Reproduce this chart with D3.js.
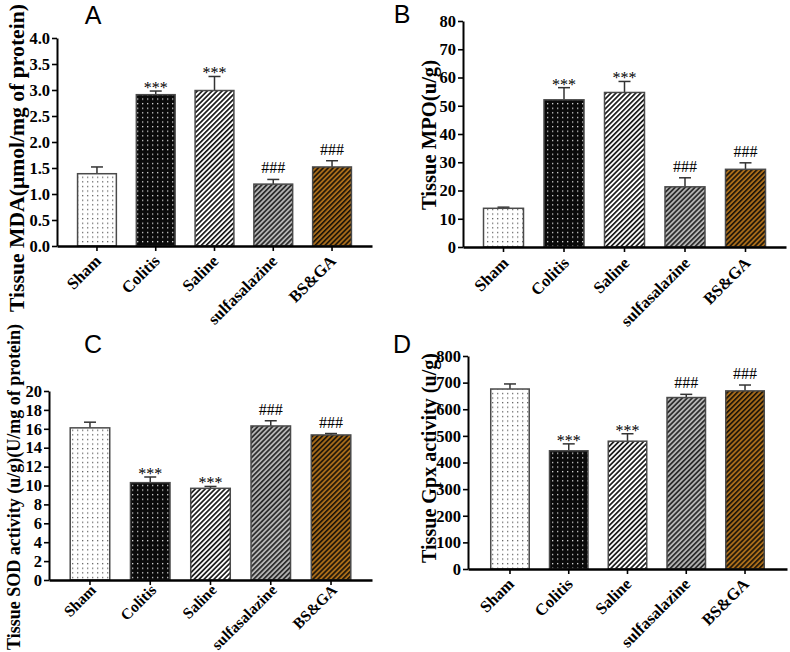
<!DOCTYPE html>
<html>
<head>
<meta charset="utf-8">
<script src="https://cdn.jsdelivr.net/npm/d3@7"></script>
<style>
  html, body { margin: 0; padding: 0; background: #fff; }
  svg { display: block; }
</style>
</head>
<body>
<svg id="chart" width="790" height="652"></svg>
<script>
// ---------------- DATA ----------------
const categories = ["Sham", "Colitis", "Saline", "sulfasalazine", "BS&GA"];

const mdaMeans  = [1.39, 2.91, 2.99, 1.19, 1.52];
const mdaErrors = [0.13, 0.07, 0.27, 0.09, 0.12];
const mdaMarks  = ["", "***", "***", "###", "###"];
const mdaTicks  = [0, 0.5, 1.0, 1.5, 2.0, 2.5, 3.0, 3.5, 4.0];

const mpoMeans  = [13.7, 52.1, 54.7, 21.3, 27.5];
const mpoErrors = [0.4, 4.3, 3.9, 3.2, 2.3];
const mpoMarks  = ["", "***", "***", "###", "###"];
const mpoTicks  = [0, 10, 20, 30, 40, 50, 60, 70, 80];

const sodMeans  = [16.1, 10.3, 9.7, 16.3, 15.35];
const sodErrors = [0.6, 0.6, 0.2, 0.55, 0.15];
const sodMarks  = ["", "***", "***", "###", "###"];
const sodTicks  = [0, 2, 4, 6, 8, 10, 12, 14, 16, 18, 20];

const gpxMeans  = [676, 444, 480, 644, 669];
const gpxErrors = [19, 26, 28, 12, 22];
const gpxMarks  = ["", "***", "***", "###", "###"];
const gpxTicks  = [0, 100, 200, 300, 400, 500, 600, 700, 800];

const panelLetters = ["A", "B", "C", "D"];
const yTitles = [
  "Tissue MDA(\u03bcmol/mg  of protein)",
  "Tissue MPO(u/g)",
  "Tissue SOD activity (u/g)(U/mg of protein)",
  "Tissue Gpx activity (u/g)"
];

// ---------------- LAYOUT ----------------
const svg = d3.select("#chart");
const SERIF = "'Liberation Serif', 'Times New Roman', serif";

const panels = [
  { means: mdaMeans, errs: mdaErrors, marks: mdaMarks, ticks: mdaTicks, fmt: d3.format(".1f"),
    x0: 57, x1: 372, y0: 246, y1: 38, pi: 0.34, po: 0.35, labDx: 5, labDy: 16, labSize: 16.5,
    letterX: 93, letterY: 24, titleX: 24, titleY: 158, titleLen: 308, titleSize: 21 },
  { means: mpoMeans, errs: mpoErrors, marks: mpoMarks, ticks: mpoTicks, fmt: d3.format("d"),
    x0: 463, x1: 786, y0: 247, y1: 21, pi: 0.339, po: 0.339, labDx: 6, labDy: 17, labSize: 16.5,
    letterX: 402, letterY: 23, titleX: 436, titleY: 135, titleLen: 150, titleSize: 20.5 },
  { means: sodMeans, errs: sodErrors, marks: sodMarks, ticks: sodTicks, fmt: d3.format("d"),
    x0: 49, x1: 372, y0: 580, y1: 391, pi: 0.344, po: 0.352, labDx: 7, labDy: 11, labSize: 15.5,
    letterX: 93, letterY: 353, titleX: 20, titleY: 487, titleLen: 326, titleSize: 18 },
  { means: gpxMeans, errs: gpxErrors, marks: gpxMarks, ticks: gpxTicks, fmt: d3.format("d"),
    x0: 468, x1: 787, y0: 569, y1: 356, pi: 0.345, po: 0.387, labDx: 5, labDy: 16, labSize: 16.5,
    letterX: 402, letterY: 353, titleX: 436, titleY: 458, titleLen: 210, titleSize: 20 }
];

// ---------------- PATTERNS ----------------
const defs = svg.append("defs");
function dotPattern(id, bg, dot) {
  const p = defs.append("pattern").attr("id", id).attr("patternUnits", "userSpaceOnUse")
    .attr("width", 5).attr("height", 4.6);
  p.append("rect").attr("width", 5).attr("height", 4.6).attr("fill", bg);
  p.append("rect").attr("x", 2).attr("y", 1.8).attr("width", 1.3).attr("height", 1.3).attr("fill", dot);
}
function hatchPattern(id, bg, line, w) {
  const p = defs.append("pattern").attr("id", id).attr("patternUnits", "userSpaceOnUse")
    .attr("width", 3.5).attr("height", 3.5).attr("patternTransform", "rotate(45)");
  p.append("rect").attr("width", 3.5).attr("height", 3.5).attr("fill", bg);
  p.append("rect").attr("x", 0).attr("y", 0).attr("width", w).attr("height", 3.5).attr("fill", line);
}
dotPattern("pSham", "#ffffff", "#6a6a6a");
dotPattern("pColitis", "#0a0a0a", "#d0d0d0");
hatchPattern("pSaline", "#ffffff", "#1a1a1a", 1.7);
hatchPattern("pSulfa", "#b8b8b8", "#2e2e2e", 1.8);
hatchPattern("pBSGA", "#a86c1a", "#1a1208", 1.6);
const fills = ["url(#pSham)", "url(#pColitis)", "url(#pSaline)", "url(#pSulfa)", "url(#pBSGA)"];

// ---------------- DRAW ----------------
panels.forEach((cfg, pi) => {
  const g = svg.append("g");
  const x = d3.scaleBand().domain(categories).range([cfg.x0, cfg.x1])
    .paddingInner(cfg.pi).paddingOuter(cfg.po);
  const y = d3.scaleLinear().domain([0, d3.max(cfg.ticks)]).range([cfg.y0, cfg.y1]);

  const rows = categories.map((c, i) => ({ c, i, v: cfg.means[i], e: cfg.errs[i], m: cfg.marks[i] }));

  // error bars (upper only)
  const eb = g.append("g").attr("stroke", "#333").attr("stroke-width", 1.5).attr("fill", "none");
  rows.forEach(d => {
    const cx = x(d.c) + x.bandwidth() / 2;
    eb.append("line").attr("x1", cx).attr("x2", cx).attr("y1", y(d.v)).attr("y2", y(d.v + d.e));
    eb.append("line").attr("x1", cx - 6).attr("x2", cx + 6).attr("y1", y(d.v + d.e)).attr("y2", y(d.v + d.e));
  });

  // bars
  g.append("g").selectAll("rect").data(rows).join("rect")
    .attr("x", d => x(d.c)).attr("width", x.bandwidth())
    .attr("y", d => y(d.v)).attr("height", d => y(0) - y(d.v))
    .attr("fill", d => fills[d.i]).attr("stroke", "#4a4a4a").attr("stroke-width", 1.5);

  // significance marks
  g.append("g").selectAll("text").data(rows.filter(d => d.m)).join("text")
    .attr("x", d => x(d.c) + x.bandwidth() / 2)
    .attr("y", d => y(d.v + d.e) + (d.m === "***" ? 2 : -6))
    .attr("text-anchor", "middle")
    .style("font-family", SERIF).style("font-size", "16px")
    .attr("fill", "#000")
    .text(d => d.m);

  // y axis
  const ya = g.append("g").attr("transform", `translate(${cfg.x0},0)`)
    .call(d3.axisLeft(y).tickValues(cfg.ticks).tickFormat(cfg.fmt).tickSize(5).tickSizeOuter(0).tickPadding(2));
  ya.attr("font-family", null).attr("font-size", null);
  ya.select(".domain").attr("stroke", "#000").attr("stroke-width", 2);
  ya.selectAll(".tick line").attr("stroke", "#000").attr("stroke-width", 1.6);
  ya.selectAll(".tick text")
    .style("font-family", SERIF).style("font-weight", "bold").style("font-size", "16.5px")
    .attr("fill", "#000");

  // x axis
  const xa = g.append("g").attr("transform", `translate(0,${cfg.y0})`)
    .call(d3.axisBottom(x).tickSize(5).tickSizeOuter(0).tickFormat(""));
  xa.select(".domain").attr("stroke", "#000").attr("stroke-width", 2.4);
  xa.selectAll(".tick line").attr("stroke", "#000").attr("stroke-width", 1.6);

  // category labels
  g.append("g").selectAll("text").data(categories).join("text")
    .attr("transform", d => `translate(${x(d) + x.bandwidth() / 2 + cfg.labDx},${cfg.y0 + cfg.labDy}) rotate(-45)`)
    .attr("text-anchor", "end")
    .style("font-family", SERIF).style("font-weight", "bold").style("font-size", cfg.labSize + "px")
    .attr("fill", "#000")
    .text(d => d);

  // y title
  g.append("text")
    .attr("transform", `translate(${cfg.titleX},${cfg.titleY}) rotate(-90)`)
    .attr("text-anchor", "middle")
    .style("font-family", SERIF).style("font-weight", "bold").style("font-size", cfg.titleSize + "px")
    .attr("textLength", cfg.titleLen).attr("lengthAdjust", "spacingAndGlyphs")
    .attr("fill", "#000")
    .text(yTitles[pi]);

  // panel letter
  g.append("text")
    .attr("x", cfg.letterX).attr("y", cfg.letterY)
    .attr("text-anchor", "middle")
    .style("font-family", "'Liberation Sans', Arial, sans-serif").style("font-size", "25px")
    .attr("fill", "#000")
    .text(panelLetters[pi]);
});
</script>
</body>
</html>
